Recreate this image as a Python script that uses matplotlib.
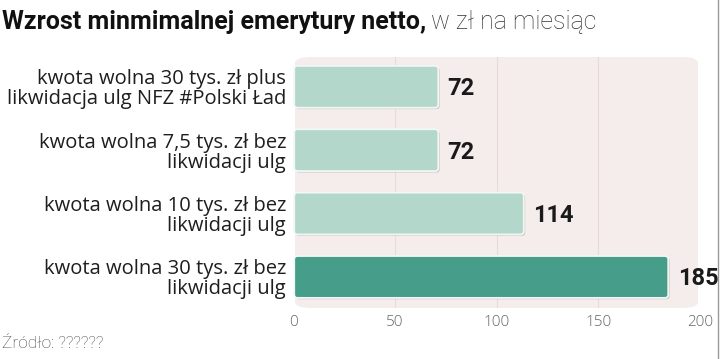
import matplotlib.pyplot as plt
from matplotlib.patches import FancyBboxPatch
import matplotlib.patheffects as pe

categories = [
    "kwota wolna 30 tys. zł plus\nlikwidacja ulg NFZ #Polski Ład",
    "kwota wolna 7,5 tys. zł bez\nlikwidacji ulg",
    "kwota wolna 10 tys. zł bez\nlikwidacji ulg",
    "kwota wolna 30 tys. zł bez\nlikwidacji ulg",
]
values = [72, 72, 114, 185]
bar_colors = ["#b3d7ca", "#b3d7ca", "#b3d7ca", "#459d8a"]
ticks = [0, 50, 100, 150, 200]

W, H = 720, 359
fig = plt.figure(figsize=(W / 100, H / 100), dpi=100)
fig.patch.set_facecolor("white")

# axes placed in pixel space
x0, x1 = 293, 700
y_top, y_bot = 57, 308
ax = fig.add_axes([x0 / W, 1 - y_bot / H, (x1 - x0) / W, (y_bot - y_top) / H])
ax.set_xlim(0, 200)
ax.set_ylim(3.49, -0.47)
ax.patch.set_visible(False)
for s in ax.spines.values():
    s.set_visible(False)

bg = FancyBboxPatch((0.005, 0.0), 0.99, 1.0, boxstyle="round,pad=0,rounding_size=0.04",
                    transform=ax.transAxes, facecolor="#f5ecec", edgecolor="none", zorder=0,
                    mutation_aspect=(y_bot - y_top) / (x1 - x0))
ax.add_patch(bg)
for t in ticks[1:-1]:
    ax.axvline(t, color="#e6dada", lw=0.8, zorder=1)

for i, (v, c) in enumerate(zip(values, bar_colors)):
    bar = FancyBboxPatch((0.6, i - 0.33), v - 1.2, 0.66,
                         boxstyle="round,pad=0,rounding_size=1.5",
                         mutation_aspect=0.66 / 20,
                         facecolor=c, edgecolor="#f2f7f5", lw=1.3, zorder=3,
                         path_effects=[pe.SimplePatchShadow(offset=(1, -1), shadow_rgbFace="#b0a8a8", alpha=0.6),
                                       pe.Normal()])
    ax.add_patch(bar)
    ax.text(v + 4, i + 0.03, str(v), ha="left", va="center", fontsize=17,
            fontweight="bold", family="Roboto", color="#1a1a1a", zorder=4)

ax.set_yticks(range(len(categories)))
ax.set_yticklabels(categories, fontsize=14.5, family="Open Sans", color="#1e1e1e",
                   linespacing=1.0)
ax.tick_params(axis="y", length=0, pad=5)
ax.set_xticks(ticks)
ax.set_xticklabels([str(t) for t in ticks], fontsize=11, family="Open Sans",
                   fontweight="light", color="#666666")
ax.tick_params(axis="x", length=0, pad=5)

fig.text(2 / W, 1 - 22 / H, "Wzrost minmimalnej emerytury netto,", fontsize=18,
         fontweight="bold", family="Roboto", color="#111111", va="center")
fig.text(2 / W, 1 - 343 / H, "Źródło: ??????", fontsize=12.5, family="Roboto",
         fontweight="light", color="#444444", va="center")

# light part of the title placed after the bold part
r = fig.canvas.get_renderer()
bold = fig.texts[0]
bb = bold.get_window_extent(renderer=r)
fig.text(bb.x1 / W + 5 / W, 1 - 22 / H, "w zł na miesiąc", fontsize=18, fontweight="light",
         family="Roboto", color="#333333", va="center")

fig.add_artist(plt.Line2D([718 / W, 718 / W], [0, 1], color="#999999", lw=1.0))

fig.savefig("out.png", dpi=100, facecolor="white")
